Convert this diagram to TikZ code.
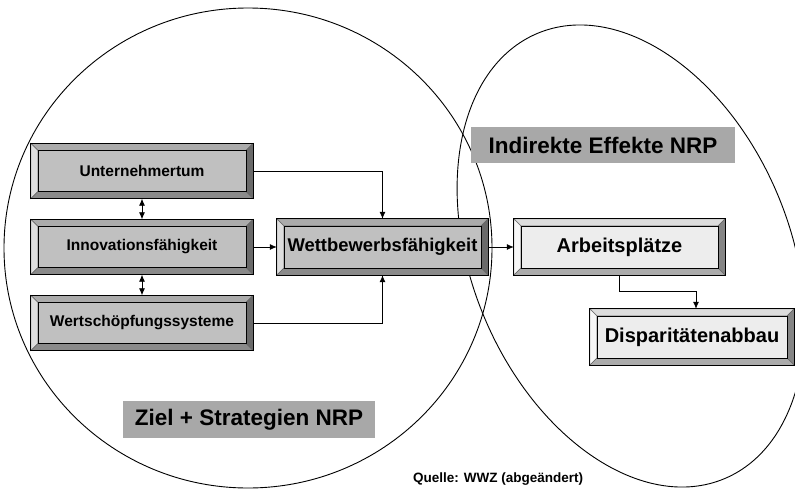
\documentclass[tikz,border=0pt]{standalone}
\usepackage{fontspec}
\setmainfont{Liberation Sans}
\usetikzlibrary{arrows.meta,calc}
\definecolor{gface}{HTML}{C0C0C0}
\definecolor{gtop}{HTML}{ABABAB}
\definecolor{gleft}{HTML}{DEDEDE}
\definecolor{gright}{HTML}{6A6A6A}
\definecolor{gbot}{HTML}{8A8A8A}
\definecolor{wface}{HTML}{EDEDED}
\definecolor{wtop}{HTML}{DDDDDD}
\definecolor{wleft}{HTML}{F7F7F7}
\definecolor{wright}{HTML}{858585}
\definecolor{wbot}{HTML}{ABABAB}
\definecolor{lblgray}{HTML}{A8A8A8}
\newcommand{\bevbox}[5]{%
  \fill[#2,draw=black!60,line width=0.4pt] (#1.north west) -- (#1.north east) -- ($(#1.north east)+(-7,7)$) -- ($(#1.north west)+(7,7)$) -- cycle;
  \fill[#3,draw=black!60,line width=0.4pt] (#1.north west) -- ($(#1.north west)+(7,7)$) -- ($(#1.south west)+(7,-7)$) -- (#1.south west) -- cycle;
  \fill[#4,draw=black!60,line width=0.4pt] (#1.north east) -- (#1.south east) -- ($(#1.south east)+(-7,-7)$) -- ($(#1.north east)+(-7,7)$) -- cycle;
  \fill[#5,draw=black!60,line width=0.4pt] (#1.south west) -- ($(#1.south west)+(7,-7)$) -- ($(#1.south east)+(-7,-7)$) -- (#1.south east) -- cycle;
  \draw[line width=0.5pt] ($(#1.north west)+(7,7)$) rectangle ($(#1.south east)+(-7,-7)$);
  \draw[line width=0.8pt] (#1.north west) rectangle (#1.south east);
}
\tikzset{
  ell/.style={draw=black, line width=0.9pt},
  gbox/.style={fill=gface, inner sep=0pt, minimum height=55pt, font=\bfseries\fontsize{15.5}{18}\selectfont},
  wbox/.style={fill=wface, inner sep=0pt, minimum height=56pt, font=\bfseries\fontsize{20}{24}\selectfont},
  lbl/.style={fill=lblgray, inner sep=0pt, font=\bfseries\fontsize{22.5}{26}\selectfont},
  conn/.style={line width=0.8pt, -{Latex[length=7pt,width=6pt]}},
  dbl/.style={line width=0.8pt, {Latex[length=7pt,width=6pt]}-{Latex[length=7pt,width=6pt]}},
}
\begin{document}
\begin{tikzpicture}[x=1pt,y=-1pt]
\useasboundingbox (0,0) rectangle (795,490);
\fill[white] (0,0) rectangle (795,490);
% ellipses
\draw[ell] (248,248) ellipse [x radius=244, y radius=240];
\draw[ell, rotate around={22.8:(631,256)}] (631,256) ellipse [x radius=159, y radius=241.5];
% labels
\node[lbl, minimum width=264pt, minimum height=36pt] (lind) at (603,145) {Indirekte Effekte NRP};
\node[lbl, minimum width=252pt, minimum height=37pt] (lziel) at (249,419.5) {Ziel + Strategien NRP};
% boxes
\node[gbox, minimum width=222pt] (U) at (142,171) {Unternehmertum};
\bevbox{U}{gtop}{gleft}{gright}{gbot}
\node[gbox, minimum width=222pt] (I) at (142,247) {Innovationsfähigkeit};
\bevbox{I}{gtop}{gleft}{gright}{gbot}
\node[gbox, minimum width=222pt] (S) at (142,323) {Wertschöpfungssysteme};
\bevbox{S}{gtop}{gleft}{gright}{gbot}
\node[gbox, minimum width=211pt, minimum height=56pt, font=\bfseries\fontsize{18.4}{22}\selectfont] (W) at (382.5,247) {Wettbewerbsfähigkeit};
\bevbox{W}{gtop}{gleft}{gright}{gbot}
\node[wbox, minimum width=211pt] (A) at (619.5,247) {Arbeitsplätze};
\bevbox{A}{wtop}{wleft}{wright}{wbot}
\node[wbox, minimum width=204pt] (D) at (692,337) {Disparitätenabbau};
\bevbox{D}{wtop}{wleft}{wright}{wbot}
% connectors
\draw[conn] (U.east) -| (W.north);
\draw[conn] (S.east) -| (W.south);
\draw[conn] (I.east) -- (W.west);
\draw[conn] (W.east) -- (A.west);
\draw[conn] (A.south) -- ++(0,16) -| ([xshift=4pt]D.north);
\draw[dbl] (U.south) -- (I.north);
\draw[dbl] (I.south) -- (S.north);
% source
\node[font=\bfseries\fontsize{13.5}{16}\selectfont, inner sep=0pt] (src) at (498,479) {Quelle: WWZ (abgeändert)};
\end{tikzpicture}
\end{document}
